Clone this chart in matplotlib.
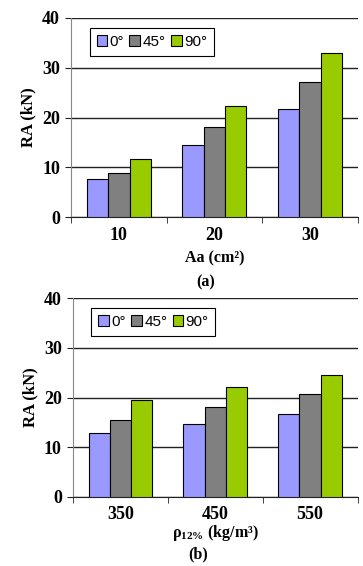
import numpy as np
import matplotlib.pyplot as plt

plt.rcParams['mathtext.fontset'] = 'custom'
plt.rcParams['mathtext.bf'] = 'Liberation Serif:bold'
plt.rcParams['mathtext.rm'] = 'Liberation Serif'

angles = ['0°', '45°', '90°']
colors = ['#9999FF', '#808080', '#99CC00']

# (a) anchorage area
area_labels = ['10', '20', '30']
ra_area = {
    '0°': [7.6, 14.5, 21.7],
    '45°': [8.9, 18.1, 27.2],
    '90°': [11.6, 22.3, 32.9],
}

# (b) density
dens_labels = ['350', '450', '550']
ra_dens = {
    '0°': [12.8, 14.7, 16.6],
    '45°': [15.4, 18.1, 20.7],
    '90°': [19.4, 22.1, 24.5],
}

serif = 'Liberation Serif'
sans = 'Liberation Sans'

fig = plt.figure(figsize=(3.63, 5.66), dpi=100)
ax1 = fig.add_axes([0.196, 0.6166, 0.789, 0.3516])
ax2 = fig.add_axes([0.201, 0.1224, 0.784, 0.3506])


def draw(ax, labels, data, xlabel, lpad):
    x = np.arange(len(labels))
    w = 0.224
    for i, a in enumerate(angles):
        ax.bar(x + (i - 1) * w, data[a], w, color=colors[i], edgecolor='black',
               linewidth=0.8, label=a, zorder=3)
    ax.set_xlim(-0.5, len(labels) - 0.5)
    ax.set_ylim(0, 40)
    ax.set_yticks([0, 10, 20, 30, 40])
    ax.yaxis.grid(True, color='#222222', linewidth=1.0, zorder=0)
    ax.set_axisbelow(True)
    for s in ['top', 'right']:
        ax.spines[s].set_visible(False)
    ax.spines['left'].set_color('#888888')
    ax.spines['bottom'].set_color('#222222')
    ax.set_xticks(x)
    ax.set_xticklabels(labels)
    ax.set_xticks(np.arange(-0.5, len(labels)), minor=True)
    ax.tick_params(axis='x', which='major', length=0, pad=7)
    ax.tick_params(axis='x', which='minor', length=4, color='#222222')
    ax.tick_params(axis='y', length=4, color='#222222', pad=4)
    for t in ax.get_xticklabels() + ax.get_yticklabels():
        t.set_fontfamily(serif)
        t.set_fontweight('bold')
        t.set_fontsize(13)
    ax.set_ylabel('RA (kN)', fontfamily=serif, fontweight='bold', fontsize=12,
                  labelpad=4)
    ax.set_xlabel(xlabel, fontfamily=serif, fontweight='bold', fontsize=11.5,
                  labelpad=lpad)
    leg = ax.legend(loc='upper left', bbox_to_anchor=(0.065, 0.95), ncol=3,
                    fancybox=False, framealpha=1, edgecolor='black',
                    prop={'family': sans, 'size': 11},
                    handlelength=0.7, handleheight=0.7, handletextpad=0.15,
                    columnspacing=0.35, borderpad=0.45, borderaxespad=0)
    leg.get_frame().set_linewidth(0.8)
    for h in leg.legend_handles:
        h.set_edgecolor('black')
    return ax


draw(ax1, area_labels, ra_area, 'Aa (cm²)', 5)
draw(ax2, dens_labels, ra_dens, 'ρ$_{\\mathbf{12\\%}}$ (kg/m³)', 0)

fig.text(0.567, 1 - 282 / 566, '(a)', ha='center', va='center',
         fontfamily=serif, fontweight='bold', fontsize=11.5)
fig.text(0.545, 1 - 554 / 566, '(b)', ha='center', va='center',
         fontfamily=serif, fontweight='bold', fontsize=11.5)

fig.savefig('out.png', dpi=100)
